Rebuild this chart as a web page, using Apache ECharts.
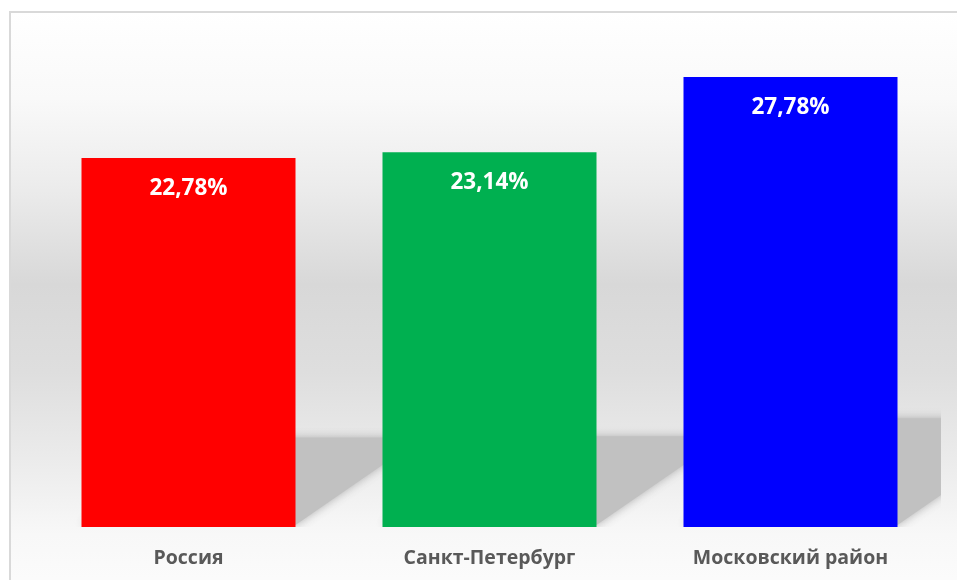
<!DOCTYPE html>
<html>
<head>
<meta charset="utf-8">
<script src="https://cdn.jsdelivr.net/npm/echarts@6/dist/echarts.min.js"></script>
<style>
  html, body { margin: 0; padding: 0; background: #fff; }
  #chart { width: 957px; height: 580px; }
</style>
</head>
<body>
<div id="chart"></div>
<script>
// data
const categories = ["Россия", "Санкт-Петербург", "Московский район"];
const values = [22.78, 23.14, 27.78];
const barColors = ["#ff0000", "#00b050", "#0000ff"];

const chart = echarts.init(document.getElementById("chart"));

const fmt = (v) => v.toFixed(2).replace(".", ",") + "%";

// floor shadow behind each bar, sheared back to the right
function renderShadow(params, api) {
  const idx = api.value(0);
  const top = api.coord([idx, api.value(1)]);
  const base = api.coord([idx, 0]);
  const half = 107;
  const h = base[1] - top[1];
  const dy = h * 0.237;
  const dx = dy / 0.69;
  const x0 = base[0] - half, x1 = base[0] + half, yb = base[1] - 2;
  return {
    type: "polygon",
    shape: { points: [[x0, yb], [x1, yb], [x1 + dx, yb - dy], [x0 + dx, yb - dy]] },
    style: {
      fill: "#c1c1c1",
      shadowBlur: 10,
      shadowColor: "rgba(170,170,170,0.9)"
    }
  };
}

let option = {
  animation: false,
  graphic: [
    {
      type: "rect",
      z: -10,
      shape: { x: 10, y: 12, width: 960, height: 580 },
      style: {
        stroke: "#d9d9d9",
        lineWidth: 2,
        fill: new echarts.graphic.LinearGradient(0, 0, 0, 1, [
          { offset: 0, color: "#ffffff" },
          { offset: 0.15, color: "#f9f9f9" },
          { offset: 0.3, color: "#ececec" },
          { offset: 0.47, color: "#d8d8d8" },
          { offset: 0.62, color: "#dedede" },
          { offset: 0.78, color: "#ececec" },
          { offset: 0.9, color: "#f8f8f8" },
          { offset: 1, color: "#fcfcfc" }
        ])
      }
    }
  ],
  grid: { left: 38, right: 16, top: 41, bottom: 53 },
  xAxis: {
    type: "category",
    data: categories,
    axisLine: { show: false },
    axisTick: { show: false },
    axisLabel: {
      margin: 21,
      fontSize: 19.5,
      fontWeight: "bold",
      color: "#595959",
      fontFamily: "Open Sans"
    }
  },
  yAxis: {
    type: "value",
    min: 0,
    max: 30,
    show: false
  },
  series: [
    {
      type: "custom",
      z: 1,
      clip: true,
      renderItem: renderShadow,
      data: values.map((v, i) => [i, v])
    },
    {
      type: "bar",
      z: 3,
      barWidth: 214,
      data: values.map((v, i) => ({ value: v, itemStyle: { color: barColors[i] } })),
      label: {
        show: true,
        position: "insideTop",
        distance: 19,
        formatter: (p) => fmt(p.value),
        color: "#ffffff",
        fontSize: 22.5,
        fontWeight: "bold",
        fontFamily: "Open Sans"
      }
    }
  ]
};

option && chart.setOption(option);
</script>
</body>
</html>
